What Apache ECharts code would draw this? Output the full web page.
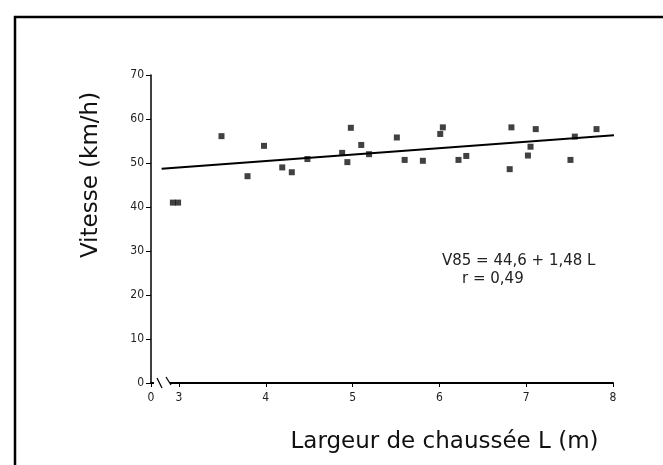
<!DOCTYPE html>
<html>
<head>
<meta charset="utf-8">
<script src="https://cdn.jsdelivr.net/npm/echarts@6.0.0/dist/echarts.min.js"></script>
<style>
  html, body { margin: 0; padding: 0; background: #fff; }
  #chart { width: 663px; height: 465px; }
</style>
</head>
<body>
<div id="chart"></div>
<script>
// largeur de chaussée (m) et vitesse V85 (km/h)
const largeur = [2.93, 2.99, 3.49, 3.79, 3.98, 4.19, 4.30, 4.48, 4.88, 4.94, 4.98, 5.10, 5.19, 5.51,
                 5.60, 5.81, 6.01, 6.04, 6.22, 6.31, 6.81, 6.83, 7.02, 7.05, 7.11, 7.51, 7.56, 7.81];
const vitesse = [41.0, 41.0, 56.1, 47.0, 53.9, 49.0, 47.9, 50.9, 52.3, 50.2, 58.0, 54.1, 52.0, 55.8,
                 50.7, 50.5, 56.6, 58.1, 50.7, 51.6, 48.6, 58.1, 51.7, 53.7, 57.7, 50.7, 56.0, 57.7];

// droite de régression (extrémités)
const droiteX = [2.8, 8.22];
const droiteY = [48.7, 56.6];

// axe x coupé : l'origine (0) est placée juste avant 3
const xOrigine = 2.678;
const xTicks = [xOrigine, 3, 4, 5, 6, 7, 8];

const equation = ['V85 = 44,6 + 1,48 L', 'r = 0,49'];

const points = largeur.map((x, i) => [x, vitesse[i]]);
const droite = droiteX.map((x, i) => [x, droiteY[i]]);

const police = '"DejaVu Sans Condensed", "DejaVu Sans", sans-serif';

const chart = echarts.init(document.getElementById('chart'));

chart.setOption({
    backgroundColor: '#fff',
    animation: false,
    grid: { left: 151, right: 50, top: 75, bottom: 82 },
    xAxis: {
        type: 'value',
        min: xOrigine,
        max: 8,
        name: 'Largeur de chaussée L (m)',
        nameLocation: 'middle',
        nameGap: 48,
        nameTextStyle: { fontFamily: 'DejaVu Sans', fontSize: 23, color: '#111', padding: [0, 0, 0, 125] },
        axisLine: { onZero: false, lineStyle: { color: '#000', width: 2 } },
        axisTick: { customValues: xTicks, length: 4, lineStyle: { color: '#000' } },
        axisLabel: {
            customValues: xTicks,
            fontFamily: police, fontSize: 12, color: '#222', margin: 9,
            formatter: function (v) { return v < 3 ? '0' : String(v); }
        },
        splitLine: { show: false }
    },
    yAxis: {
        type: 'value',
        min: 0,
        max: 70,
        interval: 10,
        name: 'Vitesse (km/h)',
        nameLocation: 'middle',
        nameGap: 48,
        nameRotate: 90,
        nameTextStyle: { fontFamily: 'DejaVu Sans', fontSize: 23, color: '#111', padding: [0, 0, 0, 108] },
        axisLine: { show: true, lineStyle: { color: '#000', width: 1.5 } },
        axisTick: { show: true, length: 5, lineStyle: { color: '#000' } },
        axisLabel: { fontFamily: police, fontSize: 12, color: '#222', margin: 7 },
        splitLine: { show: false }
    },
    series: [
        {
            name: 'Points',
            type: 'scatter',
            data: points,
            symbol: 'rect',
            symbolSize: 6,
            itemStyle: { color: '#111' }
        },
        {
            name: 'Régression',
            type: 'line',
            data: droite,
            symbol: 'none',
            lineStyle: { color: '#000', width: 2 }
        }
    ],
    graphic: [
        {
            type: 'rect',
            shape: { x: 15, y: 17, width: 720, height: 520 },
            style: { fill: 'none', stroke: '#000', lineWidth: 2.5 },
            silent: true
        },
        // coupure de l'axe x
        {
            type: 'rect',
            shape: { x: 154, y: 380, width: 16, height: 6 },
            style: { fill: '#fff' },
            z: 100
        },
        {
            type: 'line',
            shape: { x1: 157, y1: 378, x2: 162, y2: 388 },
            style: { stroke: '#000', lineWidth: 1.2 },
            z: 101
        },
        {
            type: 'line',
            shape: { x1: 166, y1: 377, x2: 171, y2: 385 },
            style: { stroke: '#000', lineWidth: 1.2 },
            z: 101
        },
        {
            type: 'text',
            left: 442,
            top: 254,
            style: { text: equation[0], font: '15px "DejaVu Sans"', fill: '#222' }
        },
        {
            type: 'text',
            left: 462,
            top: 272,
            style: { text: equation[1], font: '15px "DejaVu Sans"', fill: '#222' }
        }
    ]
});

window.addEventListener('resize', function () {
    chart.resize();
});
</script>
</body>
</html>
